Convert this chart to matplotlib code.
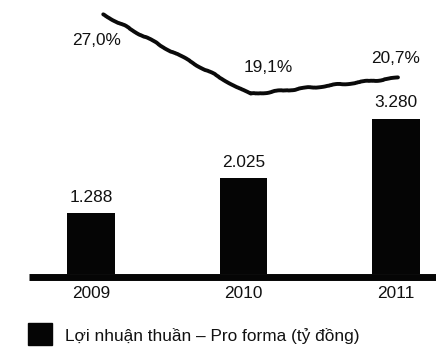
import matplotlib
matplotlib.use("Agg")
import matplotlib.pyplot as plt
from matplotlib.patches import Rectangle

plt.rcParams['font.family'] = ['Liberation Sans', 'DejaVu Sans']

years = ["2009", "2010", "2011"]
profit = [1288, 2025, 3280]            # tỷ đồng
profit_labels = ["1.288", "2.025", "3.280"]
margin = [27.0, 19.1, 20.7]            # %
margin_labels = ["27,0%", "19,1%", "20,7%"]
legend_label = "Lợi nhuận thuần – Pro forma (tỷ đồng)"

FS = 12.4
INK = "#111111"

fig = plt.figure(figsize=(4.36, 3.55), dpi=100)
ax = fig.add_axes([0, 0, 1, 1])
ax.set_xlim(-0.597, 2.262)
ax.set_ylim(-1709, 5781)
ax.axis("off")

x = list(range(len(years)))
ax.bar(x, profit, width=0.31, color="#050505", zorder=2)

# baseline
ax.plot([-0.41, 2.262], [-70, -70], color="#050505", lw=5,
        solid_capstyle="butt", zorder=3)

for xi, v, lab in zip(x, profit, profit_labels):
    ax.annotate(lab, (xi, v), xytext=(0, 6), textcoords="offset points",
                ha="center", va="bottom", fontsize=FS, color=INK)

for xi, lab in zip(x, years):
    ax.annotate(lab, (xi, 0), xytext=(0, -9), textcoords="offset points",
                ha="center", va="top", fontsize=FS, color=INK)

# margin line on its own scale
ax2 = fig.add_axes([0, 0, 1, 1], sharex=ax)
ax2.set_ylim(-6.73, 28.42)
ax2.axis("off")
line_x = [xi + s for xi, s in zip(x, [0.08, 0.046, 0.013])]
ln, = ax2.plot(line_x, margin, color="#0a0a0a", lw=2.8, solid_capstyle="round",
               solid_joinstyle="round")
ln.set_sketch_params(scale=0.7, length=45, randomness=4)

label_offsets = [(-5, -19), (13, 19), (-2, 14)]
for xi, v, lab, off in zip(line_x, margin, margin_labels, label_offsets):
    ax2.annotate(lab, (xi, v), xytext=off, textcoords="offset points",
                 ha="center", va="center", fontsize=FS, color=INK)

# legend
fig.patches.append(Rectangle((28 / 436, (355 - 345) / 355), 24 / 436, 22 / 355,
                             transform=fig.transFigure, color="#050505"))
fig.text(65 / 436, 1 - 341 / 355, legend_label, ha="left", va="baseline",
         fontsize=FS, color=INK)

fig.savefig("out.png", dpi=100)
